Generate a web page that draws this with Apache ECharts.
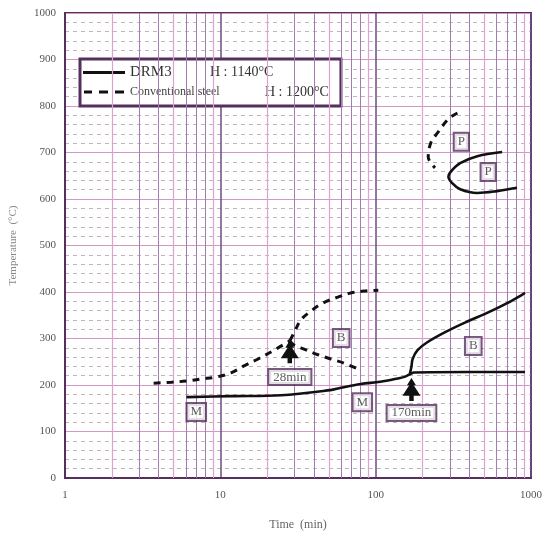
<!DOCTYPE html>
<html>
<head>
<meta charset="utf-8">
<script src="https://cdn.jsdelivr.net/npm/echarts@6/dist/echarts.min.js"></script>
<style>
html, body { margin: 0; padding: 0; background: #fff; }
#chart { width: 559px; height: 539px; }
</style>
</head>
<body>
<div id="chart"></div>
<script>
// Time axis (min, log scale) and temperature axis (°C)
const timeTicks = [1, 10, 100, 1000];
const minorTimesPink = [2, 5, 9, 20, 50, 90, 200, 500, 900];
const minorTimesPurple = [3, 4, 6, 7, 8, 30, 40, 60, 70, 80, 300, 400, 600, 700, 800];

// DRM3, H : 1140°C  — [time (min), temperature (°C)]
const drmMs = [[6.05, 174], [11.7, 176], [24.6, 178], [51, 189], [59.7, 194], [80, 202], [107, 207], [138, 214], [155, 218], [168, 224], [176, 227], [400, 228], [915, 228]];
const drmBainite = [[166, 224], [170, 240], [173, 256], [186, 275], [215, 292], [289, 316], [386, 336], [522, 355], [702, 376], [915, 398]];
const drmPearlite = [[652, 701], [451, 692], [350, 677], [303, 658], [294, 648], [311, 634], [350, 621], [451, 613], [604, 617], [812, 624]];

// Conventional steel, H : 1200°C
const convMs = [[3.72, 204], [4.85, 206], [6.2, 209], [7.55, 213], [9.4, 217], [11.7, 226], [14.2, 241], [17.5, 256], [21.2, 271], [28, 295]];
const convBainiteStart = [[28, 295], [29.8, 312], [33, 340], [38.3, 359], [45.6, 376], [57, 389], [69, 398], [84, 402], [104, 404]];
const convBainiteEnd = [[28, 295], [29.8, 286], [34.6, 277], [42.6, 265], [51.4, 256], [62.6, 247], [80, 232]];
const convPearlite = [[336, 785], [294, 772], [250, 742], [226, 720], [218, 690], [241, 667]];

// Phase region labels — [time, temperature, text]
const regionLabels = [[7.0, 142, 'M'], [82, 163, 'M'], [60, 301, 'B'], [425, 284, 'B'], [356, 723, 'P'], [530, 658, 'P']];

// Transformation-start times — [time, temperature at arrow tip, text, temperature of caption]
const timeMarks = [[28, 296, '28min', 217], [170, 215, '170min', 140]];

const serif = '"Liberation Serif", "DejaVu Serif", serif';
const boxColor = '#55305e';

const arrowPath = 'path://M8,0 L12,7 L10,7 L16,17 L10,17 L10,22 L6,22 L6,17 L0,17 L6,7 L4,7 Z';
const solidIcon = 'path://M0,0 H42 V3 H0 Z';
const dashedIcon = 'path://M0,0 H8 V3 H0 Z M15,0 H24 V3 H15 Z M31,0 H40 V3 H31 Z';

function curve(name, data, dashed) {
  return {
    name: name,
    type: 'line',
    data: data,
    smooth: 0.35,
    symbol: 'none',
    z: 5,
    itemStyle: { color: '#111' },
    lineStyle: dashed
      ? { color: '#111', width: 3, type: [7, 6] }
      : { color: '#111', width: 2.6, type: 'solid' }
  };
}

const chart = echarts.init(document.getElementById('chart'), null, { renderer: 'canvas' });

chart.setOption({
  animation: false,
  backgroundColor: '#fff',
  grid: {
    left: 63, right: 28, top: 13, bottom: 61,
    show: true, borderColor: boxColor, borderWidth: 2, backgroundColor: 'transparent'
  },
  legend: {
    data: [
      { name: 'DRM3', icon: solidIcon },
      { name: 'Conventional steel', icon: dashedIcon }
    ],
    orient: 'vertical',
    left: 80, top: 59,
    itemWidth: 42, itemHeight: 3, itemGap: 5,
    padding: [6, 12, 7, 3],
    backgroundColor: '#fff',
    borderColor: boxColor, borderWidth: 3,
    itemStyle: { color: '#111', borderWidth: 0 },
    lineStyle: { width: 0 },
    formatter: function (name) {
      return name === 'DRM3'
        ? '{a|DRM3}{b|H : 1140°C}'
        : '{c|Conventional steel}{b|H : 1200°C}';
    },
    textStyle: {
      fontFamily: serif, color: '#333',
      rich: {
        a: { fontFamily: serif, fontSize: 15, color: '#333', width: 80 },
        c: { fontFamily: serif, fontSize: 12, color: '#444', width: 135 },
        b: { fontFamily: serif, fontSize: 14, color: '#333' }
      }
    }
  },
  xAxis: {
    type: 'log', logBase: 10, min: 1, max: 1000,
    name: 'Time  (min)', nameLocation: 'middle', nameGap: 41,
    nameTextStyle: { fontFamily: serif, fontSize: 12, color: '#666' },
    axisLine: { show: true, lineStyle: { color: boxColor, width: 2 } },
    axisTick: { show: false },
    axisLabel: { fontFamily: serif, fontSize: 11, color: '#555', margin: 12, formatter: v => String(Math.round(v)) },
    splitLine: { show: true, lineStyle: { color: '#6e4a80', width: 1.5 } }
  },
  yAxis: {
    type: 'value', min: 0, max: 1000, interval: 100,
    name: 'Temperature  (°C)', nameLocation: 'middle', nameGap: 46,
    nameTextStyle: { fontFamily: serif, fontSize: 11, color: '#888' },
    axisLine: { show: true, lineStyle: { color: boxColor, width: 2 } },
    axisTick: { show: false },
    axisLabel: { fontFamily: serif, fontSize: 11, color: '#555', margin: 9, formatter: v => String(v) },
    splitLine: { show: true, lineStyle: { color: '#d597c6', width: 1 } },
    minorTick: { show: false, splitNumber: 5 },
    minorSplitLine: { show: true, lineStyle: { color: '#c2b3c0', width: 1, type: [4, 4] } }
  },
  series: [
    {
      name: 'minorGrid',
      type: 'line',
      data: [],
      silent: true,
      z: 1,
      markLine: {
        silent: true, symbol: 'none', label: { show: false },
        animation: false,
        data: minorTimesPink.map(t => ({ xAxis: t, lineStyle: { color: '#dca2d0', width: 1.2, type: 'solid' } }))
          .concat(minorTimesPurple.map(t => ({ xAxis: t, lineStyle: { color: '#a27bb0', width: 1, type: 'solid' } })))
      }
    },
    curve('DRM3', drmMs, false),
    curve('DRM3', drmBainite, false),
    curve('DRM3', drmPearlite, false),
    curve('Conventional steel', convMs, true),
    curve('Conventional steel', convBainiteStart, true),
    curve('Conventional steel', convBainiteEnd, true),
    curve('Conventional steel', convPearlite, true),
    {
      name: 'arrows',
      type: 'scatter',
      data: timeMarks.map(m => [m[0], m[1]]),
      symbol: arrowPath,
      symbolSize: [18, 23],
      symbolOffset: [0, '50%'],
      itemStyle: { color: '#111', opacity: 1 },
      silent: true,
      z: 6
    },
    {
      name: 'timeCaptions',
      type: 'scatter',
      data: timeMarks.map(m => [m[0], m[3], m[2]]),
      symbolSize: 1,
      itemStyle: { color: 'transparent' },
      silent: true,
      z: 7,
      label: {
        show: true, position: 'inside',
        formatter: p => p.data[2],
        fontFamily: serif, fontSize: 13, color: '#333',
        backgroundColor: '#fff', borderColor: boxColor, borderWidth: 2,
        padding: [1, 4, 0, 4]
      }
    },
    {
      name: 'regions',
      type: 'scatter',
      data: regionLabels,
      symbolSize: 1,
      itemStyle: { color: 'transparent' },
      silent: true,
      z: 7,
      label: {
        show: true, position: 'inside',
        formatter: p => p.data[2],
        fontFamily: serif, fontSize: 13, color: '#333',
        backgroundColor: '#fff', borderColor: boxColor, borderWidth: 2,
        padding: [2, 3, 1, 3]
      }
    }
  ]
});
</script>
</body>
</html>
